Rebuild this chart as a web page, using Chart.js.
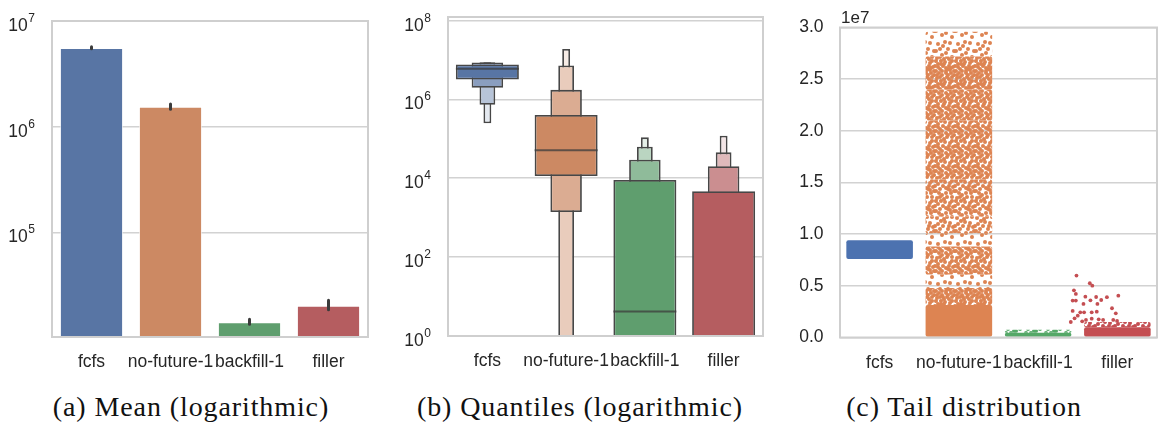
<!DOCTYPE html>
<html>
<head>
<meta charset="utf-8">
<script src="https://cdn.jsdelivr.net/npm/chart.js@4.4.1/dist/chart.umd.min.js"></script>
<style>
  body { margin: 0; background: #fff; width: 1161px; height: 430px; position: relative; overflow: hidden; }
  .panel { position: absolute; top: 0; height: 380px; }
  .caption { position: absolute; top: 393px; width: 400px; line-height: 28px; text-align: center;
             font-family: "Liberation Serif", serif; font-size: 28px; letter-spacing: 0.9px; color: #111; white-space: nowrap; }
</style>
</head>
<body>
<div class="panel" style="left:0;width:385px"><canvas id="mean"></canvas></div>
<div class="panel" style="left:385px;width:385px"><canvas id="quantiles"></canvas></div>
<div class="panel" style="left:775px;width:386px"><canvas id="tail"></canvas></div>
<div class="caption" style="left:-9px">(a) Mean (logarithmic)</div>
<div class="caption" style="left:380px">(b) Quantiles (logarithmic)</div>
<div class="caption" style="left:764px">(c) Tail distribution</div>
<script>
const categories = ['fcfs', 'no-future-1', 'backfill-1', 'filler'];

// (a) mean per scheduler, with confidence interval
const meanValues = [5.56e6, 1.54e6, 1.41e4, 2.02e4];
const meanCiLow = [5.45e6, 1.46e6, 1.35e4, 1.85e4];
const meanCiHigh = [5.72e6, 1.64e6, 1.51e4, 2.28e4];
const meanTicks = [1e5, 1e6, 1e7];

// (b) letter-value boxes [low, high] per scheduler, level 1 is the widest
const boxLevel1 = [[3.21e6, 7.69e6], [1.14e4, 4.01e5], [0.1, 9.06e3], [0.1, 4.69e3]];
const boxLevel2 = [[1.97e6, 8.65e6], [1.40e3, 1.75e6], [0.1, 2.96e4], [0.1, 2.01e4]];
const boxLevel3 = [[7.3e5, 8.7e6], [0.1, 7.26e6], [0.1, 6.3e4], [0.1, 4.55e4]];
const boxLevel4 = [[2.47e5, 8.75e6], [0.1, 1.91e7], [0.1, 1.09e5], [0.1, 1.2e5]];
const boxMedians = [5.96e6, 5.12e4, 4.2, 0.5];
const quantileTicks = [1, 1e2, 1e4, 1e6, 1e8];

// (c) strip plot, dense parts as [low, high, share of area covered by dots]
const fcfsStrip = [[7.6e6, 9.4e6, 1]];
const noFutureStrip = [[0, 3.15e6, 1], [3.15e6, 4.8e6, 0.9], [4.8e6, 6.1e6, 0.22], [6.1e6, 8.8e6, 0.7],
  [8.8e6, 1.01e7, 0.22], [1.01e7, 1.17e7, 0.5], [1.17e7, 1.53e7, 0.62], [1.53e7, 2.1e7, 0.72],
  [2.1e7, 2.4e7, 0.78], [2.4e7, 2.72e7, 0.88], [2.72e7, 2.96e7, 0.28]];
const backfillStrip = [[0, 4.5e5, 1], [4.5e5, 7.5e5, 0.35]];
const fillerStrip = [[0, 1.0e6, 1], [1.0e6, 1.5e6, 0.55]];
// single filler points: [jitter, value]
const fillerOutliers = [[-0.27, 5.99e6], [-0.06, 5.25e6], [-0.02, 5.02e6], [-0.31, 4.57e6], [-0.28, 4.22e6],
  [0.39, 4.05e6], [-0.13, 3.95e6], [0.04, 3.92e6], [0.21, 3.9e6], [-0.33, 3.57e6], [-0.28, 3.57e6],
  [-0.05, 3.6e6], [0.12, 3.63e6], [-0.16, 3.25e6], [0.06, 3.25e6], [0.29, 2.83e6], [-0.33, 2.57e6],
  [-0.21, 2.44e6], [-0.15, 2.44e6], [-0.03, 2.44e6], [0.05, 2.5e6], [0.35, 2.34e6], [-0.25, 2.11e6],
  [-0.3, 1.86e6], [-0.12, 1.7e6], [-0.03, 1.82e6], [0.08, 1.76e6], [0.15, 1.7e6], [0.31, 1.7e6],
  [0.37, 1.6e6], [-0.36, 1.5e6], [-0.18, 1.57e6]];
const tailTicks = [0, 5e6, 1e7, 1.5e7, 2e7, 2.5e7, 3e7];

// colours
const barColors = ['#5875a4', '#cc8963', '#5f9e6e', '#b55d60'];
const boxColors = [
  ['#5875a4', '#cc8963', '#5f9e6e', '#b55d60'],
  ['#8a9ebf', '#dbac92', '#8fbb9a', '#cb8e90'],
  ['#b7c4d8', '#e9ccbc', '#bad5c1', '#dfb9bb'],
  ['#e4e9f0', '#f7ece6', '#e5f0e8', '#f3e5e6']
];
const dotColors = ['#4c72b0', '#dd8452', '#55a868', '#c44e52'];

const fontFamily = 'Liberation Sans, Arial, sans-serif';
const tickFont = { family: fontFamily, size: 17.5 };
const tickColor = '#262626';
const gridColor = '#d2d2d2';

// light grey box round the plot area
const framePlugin = {
  id: 'frame',
  afterDatasetsDraw(chart) {
    const { ctx, chartArea: a } = chart;
    ctx.save();
    ctx.strokeStyle = '#cfcfcf';
    ctx.lineWidth = 2;
    ctx.strokeRect(a.left, a.top, a.right - a.left, a.bottom - a.top);
    ctx.restore();
  }
};

// log tick labels as 10 with a raised exponent
const powerTickPlugin = {
  id: 'powerTicks',
  afterDraw(chart) {
    const { ctx, chartArea: a } = chart;
    const y = chart.scales.y;
    const right = a.left - 17;
    ctx.save();
    ctx.fillStyle = tickColor;
    ctx.textBaseline = 'alphabetic';
    y.ticks.forEach(t => {
      const py = y.getPixelForValue(t.value);
      const exp = String(Math.round(Math.log10(t.value)));
      ctx.font = '12px ' + fontFamily;
      ctx.textAlign = 'right';
      ctx.fillText(exp, right, py + 1);
      const ew = ctx.measureText(exp).width;
      ctx.font = '17.5px ' + fontFamily;
      ctx.fillText('10', right - ew - 0.5, py + 10);
    });
    ctx.restore();
  }
};

function xAxis(height) {
  return {
    type: 'category',
    grid: { display: false },
    border: { display: false },
    ticks: { font: tickFont, color: tickColor, padding: 7, autoSkip: false, maxRotation: 0, minRotation: 0 },
    afterFit: s => { s.height = height; }
  };
}

function yAxis(width, tickValues, extra) {
  return Object.assign({
    grid: { color: gridColor, lineWidth: 1.6, drawTicks: false },
    border: { display: false },
    afterBuildTicks: s => { s.ticks = tickValues.map(v => ({ value: v })); },
    afterFit: s => { s.width = width; }
  }, extra);
}

const common = {
  responsive: true,
  maintainAspectRatio: false,
  animation: false,
  plugins: { legend: { display: false }, tooltip: { enabled: false } }
};

// (a) mean
const errorBarPlugin = {
  id: 'errorBars',
  afterDatasetsDraw(chart) {
    const { ctx } = chart;
    const meta = chart.getDatasetMeta(0);
    const y = chart.scales.y;
    ctx.save();
    ctx.strokeStyle = '#3b3b3b';
    ctx.lineWidth = 3;
    ctx.lineCap = 'round';
    meta.data.forEach((bar, i) => {
      ctx.beginPath();
      ctx.moveTo(bar.x, y.getPixelForValue(meanCiLow[i]));
      ctx.lineTo(bar.x, y.getPixelForValue(meanCiHigh[i]));
      ctx.stroke();
    });
    ctx.restore();
  }
};

new Chart(document.getElementById('mean'), {
  type: 'bar',
  data: {
    labels: categories,
    datasets: [{
      data: meanValues,
      backgroundColor: barColors,
      borderColor: 'rgba(255,255,255,0.7)',
      borderWidth: 1,
      barPercentage: 0.8,
      categoryPercentage: 1
    }]
  },
  options: Object.assign({}, common, {
    layout: { padding: { left: 0, right: 17, top: 21, bottom: 0 } },
    scales: {
      x: xAxis(43),
      y: yAxis(52, meanTicks, { type: 'logarithmic', min: 1.023e4, max: 1e7, ticks: { display: false } })
    }
  }),
  plugins: [errorBarPlugin, framePlugin, powerTickPlugin]
});

// (b) quantiles, boxenplot as floating bars of shrinking width
const medianPlugin = {
  id: 'medians',
  afterDatasetsDraw(chart) {
    const { ctx, chartArea: a } = chart;
    const meta = chart.getDatasetMeta(0);
    const y = chart.scales.y;
    ctx.save();
    ctx.beginPath();
    ctx.rect(a.left, a.top, a.right - a.left, a.bottom - a.top);
    ctx.clip();
    ctx.strokeStyle = 'rgba(60,60,60,0.75)';
    ctx.lineWidth = 2;
    meta.data.forEach((box, i) => {
      const py = y.getPixelForValue(boxMedians[i]);
      ctx.beginPath();
      ctx.moveTo(box.x - box.width / 2, py);
      ctx.lineTo(box.x + box.width / 2, py);
      ctx.stroke();
    });
    ctx.restore();
  }
};

const boxLevels = [boxLevel1, boxLevel2, boxLevel3, boxLevel4];
const boxWidths = [0.8, 0.4, 0.2, 0.1];

new Chart(document.getElementById('quantiles'), {
  type: 'bar',
  data: {
    labels: categories,
    datasets: boxLevels.map((level, k) => ({
      data: level,
      backgroundColor: boxColors[k],
      borderColor: '#474747',
      borderWidth: 1.8,
      borderSkipped: false,
      barPercentage: boxWidths[k],
      categoryPercentage: 1,
      grouped: false
    }))
  },
  options: Object.assign({}, common, {
    layout: { padding: { left: 0, right: 7, top: 17, bottom: 0 } },
    scales: {
      x: xAxis(44),
      y: yAxis(63, quantileTicks, { type: 'logarithmic', min: 1, max: 1.23e8, ticks: { display: false } })
    }
  }),
  plugins: [medianPlugin, framePlugin, powerTickPlugin]
});

// (c) tail distribution, strip plot
const tileDots = [[3, 4], [13, 9], [7, 15], [17, 17], [10, 2], [1, 11], [15, 3], [5, 9], [11, 13], [19, 11],
  [8, 6], [16, 13], [2, 18], [12, 17], [6, 1], [18, 7], [4, 13], [14, 6], [9, 19], [0, 6],
  [11, 8], [5, 17], [15, 10], [1, 1], [17, 1], [7, 11], [13, 15], [3, 7], [19, 15], [9, 4],
  [14, 19], [6, 4], [11, 11], [2, 15], [16, 8], [8, 17], [12, 3], [4, 10], [18, 19], [10, 15]];

function dotPattern(ctx, color, density) {
  const tile = document.createElement('canvas');
  tile.width = 20;
  tile.height = 20;
  const c = tile.getContext('2d');
  c.fillStyle = color;
  const n = Math.round(density * tileDots.length);
  for (let k = 0; k < n; k++) {
    for (const dx of [-20, 0, 20]) {
      for (const dy of [-20, 0, 20]) {
        c.beginPath();
        c.arc(tileDots[k][0] + dx, tileDots[k][1] + dy, 2, 0, Math.PI * 2);
        c.fill();
      }
    }
  }
  return ctx.createPattern(tile, 'repeat');
}

const offsetTextPlugin = {
  id: 'offsetText',
  afterDraw(chart) {
    const { ctx, chartArea: a } = chart;
    ctx.save();
    ctx.font = '17px ' + fontFamily;
    ctx.fillStyle = tickColor;
    ctx.textBaseline = 'alphabetic';
    ctx.fillText('1e7', a.left + 1, a.top - 5);
    ctx.restore();
  }
};

const tailCtx = document.getElementById('tail').getContext('2d');
const tailDatasets = [{
  type: 'scatter',
  xAxisID: 'x2',
  data: fillerOutliers.map(([j, v]) => ({ x: 3 + j, y: v })),
  backgroundColor: dotColors[3],
  pointRadius: 1.9,
  borderWidth: 0
}];
[fcfsStrip, noFutureStrip, backfillStrip, fillerStrip].forEach((strips, ci) => {
  strips.forEach(([lo, hi, d]) => {
    tailDatasets.push({
      data: categories.map((_, i) => (i === ci ? [lo, hi] : null)),
      backgroundColor: d >= 1 ? dotColors[ci] : dotPattern(tailCtx, dotColors[ci], d),
      borderWidth: 0,
      borderRadius: 2,
      borderSkipped: false,
      barPercentage: 0.84,
      categoryPercentage: 1,
      grouped: false
    });
  });
});

new Chart(tailCtx, {
  type: 'bar',
  data: { labels: categories, datasets: tailDatasets },
  options: Object.assign({}, common, {
    layout: { padding: { left: 0, right: 3, top: 27.5, bottom: 0 } },
    scales: {
      x: xAxis(42.5),
      x2: { type: 'linear', min: -0.5, max: 3.5, display: false },
      y: yAxis(65, tailTicks, { type: 'linear', min: 0, max: 3e7,
        ticks: { font: tickFont, color: tickColor, padding: 16.5, callback: v => (v / 1e7).toFixed(1) } })
    }
  }),
  plugins: [offsetTextPlugin, framePlugin]
});
</script>
</body>
</html>
